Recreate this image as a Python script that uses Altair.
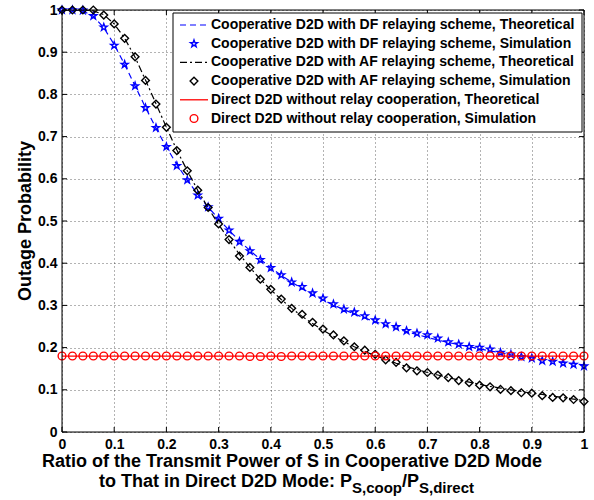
import math
import altair as alt
import pandas as pd

# ---------------- data ----------------
X = [0.00, 0.02, 0.04, 0.06, 0.08, 0.10, 0.12, 0.14, 0.16, 0.18,
     0.20, 0.22, 0.24, 0.26, 0.28, 0.30, 0.32, 0.34, 0.36, 0.38,
     0.40, 0.42, 0.44, 0.46, 0.48, 0.50, 0.52, 0.54, 0.56, 0.58,
     0.60, 0.62, 0.64, 0.66, 0.68, 0.70, 0.72, 0.74, 0.76, 0.78,
     0.80, 0.82, 0.84, 0.86, 0.88, 0.90, 0.92, 0.94, 0.96, 0.98,
     1.00]

DF_THEORY = [1.000, 1.000, 0.998, 0.985, 0.958, 0.918, 0.871, 0.820, 0.769, 0.720,
             0.675, 0.634, 0.597, 0.563, 0.533, 0.505, 0.478, 0.453, 0.430, 0.409,
             0.389, 0.371, 0.355, 0.340, 0.326, 0.313, 0.301, 0.290, 0.280, 0.270,
             0.261, 0.253, 0.245, 0.238, 0.231, 0.224, 0.218, 0.212, 0.207, 0.202,
             0.197, 0.192, 0.188, 0.183, 0.179, 0.176, 0.172, 0.168, 0.165, 0.162,
             0.159]
DF_SIM = [1.000, 1.000, 0.999, 0.986, 0.959, 0.916, 0.871, 0.820, 0.768, 0.721,
          0.676, 0.631, 0.597, 0.561, 0.533, 0.506, 0.478, 0.451, 0.429, 0.408,
          0.389, 0.372, 0.355, 0.344, 0.329, 0.317, 0.303, 0.291, 0.284, 0.275,
          0.265, 0.256, 0.249, 0.240, 0.234, 0.230, 0.222, 0.213, 0.208, 0.202,
          0.200, 0.196, 0.188, 0.184, 0.178, 0.175, 0.169, 0.167, 0.163, 0.160,
          0.156]
AF_THEORY = [1.000, 1.000, 1.000, 0.998, 0.989, 0.967, 0.933, 0.888, 0.834, 0.778,
             0.722, 0.668, 0.619, 0.573, 0.531, 0.492, 0.455, 0.421, 0.390, 0.362,
             0.337, 0.314, 0.293, 0.274, 0.257, 0.241, 0.227, 0.214, 0.202, 0.191,
             0.181, 0.172, 0.163, 0.155, 0.148, 0.141, 0.135, 0.129, 0.123, 0.118,
             0.113, 0.108, 0.104, 0.100, 0.096, 0.092, 0.089, 0.085, 0.082, 0.078,
             0.074]
AF_SIM = [1.000, 1.000, 1.000, 1.000, 0.988, 0.967, 0.933, 0.889, 0.833, 0.777,
          0.722, 0.667, 0.619, 0.573, 0.532, 0.493, 0.456, 0.417, 0.390, 0.362,
          0.338, 0.315, 0.293, 0.279, 0.260, 0.244, 0.230, 0.216, 0.202, 0.194,
          0.184, 0.171, 0.165, 0.152, 0.145, 0.141, 0.135, 0.129, 0.122, 0.117,
          0.111, 0.107, 0.101, 0.098, 0.093, 0.092, 0.086, 0.082, 0.081, 0.077,
          0.072]
DIRECT_THEORY = [0.180] * 51
DIRECT_SIM = [0.180, 0.180, 0.180, 0.180, 0.180, 0.180, 0.180, 0.180, 0.180, 0.180,
              0.180, 0.180, 0.180, 0.180, 0.180, 0.180, 0.180, 0.180, 0.179, 0.179,
              0.180, 0.179, 0.180, 0.180, 0.180, 0.180, 0.180, 0.180, 0.180, 0.180,
              0.180, 0.180, 0.180, 0.180, 0.180, 0.180, 0.180, 0.180, 0.180, 0.180,
              0.180, 0.180, 0.180, 0.180, 0.180, 0.180, 0.180, 0.180, 0.180, 0.180,
              0.180]

TICKS = [0, 0.1, 0.2, 0.3, 0.4, 0.5, 0.6, 0.7, 0.8, 0.9, 1.0]

LEGEND_LABELS = [
    "Cooperative D2D with DF relaying scheme, Theoretical",
    "Cooperative D2D with DF relaying scheme, Simulation",
    "Cooperative D2D with AF relaying scheme, Theoretical",
    "Cooperative D2D with AF relaying scheme, Simulation",
    "Direct D2D without relay cooperation, Theoretical",
    "Direct D2D without relay cooperation, Simulation",
]
X_TITLE_1 = "Ratio of the Transmit Power of S in Cooperative D2D Mode"
X_TITLE_2 = "to That in Direct D2D Mode: P"
SUB_1 = "S,coop"
MID = "/P"
SUB_2 = "S,direct"
Y_TITLE = "Outage Probability"

# ---------------- styling ----------------
FONT = "Liberation Sans"
BLUE, BLACK, RED = "#0000FF", "#000000", "#FF0000"
W, H = 522, 422

# pentagram path (unit radius)
pts = []
for k in range(10):
    ang = math.radians(-90 + 36 * k)
    r = 1.0 if k % 2 == 0 else 0.40
    pts.append(f"{r*math.cos(ang):.3f},{r*math.sin(ang):.3f}")
STAR = "M" + "L".join(pts) + "Z"

df = pd.DataFrame({
    "x": X, "df_th": DF_THEORY, "df_sim": DF_SIM, "af_th": AF_THEORY,
    "af_sim": AF_SIM, "d_th": DIRECT_THEORY, "d_sim": DIRECT_SIM,
})
one = pd.DataFrame({"a": [0]})

xs = alt.Scale(domain=[0, 1], nice=False, zero=False)
ys = alt.Scale(domain=[0, 1], nice=False, zero=False)

axis_common = dict(values=TICKS, format="~g", title=None, grid=True, tickSize=0,
                   domain=False, labelFont=FONT, labelFontSize=14, labelFontWeight="bold",
                   labelColor="black", labelFlush=False, labelOverlap=False, labelPadding=5,
                   gridColor="#000000", gridDash=[1, 3], gridOpacity=0.6, gridWidth=1)
XAXIS = alt.Axis(**axis_common)
YAXIS = alt.Axis(**axis_common)


def xy(field):
    return dict(x=alt.X("x:Q", scale=xs, axis=XAXIS),
                y=alt.Y(f"{field}:Q", scale=ys, axis=YAXIS))


base = alt.Chart(df)
layers = []
layers.append(base.mark_line(color=BLUE, strokeWidth=1.2, strokeDash=[6, 4], clip=True)
              .encode(**xy("df_th")))
layers.append(base.mark_point(shape=STAR, color=BLUE, size=55, strokeWidth=1.4, filled=False, opacity=1)
              .encode(**xy("df_sim")))
layers.append(base.mark_line(color=BLACK, strokeWidth=1.2, strokeDash=[7, 3, 2, 3], clip=True)
              .encode(**xy("af_th")))
layers.append(base.mark_point(shape="diamond", color=BLACK, size=60, strokeWidth=1.4, filled=False, opacity=1)
              .encode(**xy("af_sim")))
layers.append(base.mark_line(color=RED, strokeWidth=1.3, clip=True)
              .encode(**xy("d_th")))
layers.append(base.mark_point(shape="circle", color=RED, size=60, strokeWidth=1.4, filled=False, opacity=1)
              .encode(**xy("d_sim")))

# inward ticks on all four sides
tdf = pd.DataFrame({"t": TICKS})
tb = alt.Chart(tdf)
layers.append(tb.mark_rule(color="black").encode(
    x=alt.X("t:Q", scale=xs, axis=XAXIS), y=alt.value(H), y2=alt.value(H - 5)))
layers.append(tb.mark_rule(color="black").encode(
    x=alt.X("t:Q", scale=xs, axis=XAXIS), y=alt.value(0), y2=alt.value(5)))
layers.append(tb.mark_rule(color="black").encode(
    y=alt.Y("t:Q", scale=ys, axis=YAXIS), x=alt.value(0), x2=alt.value(5)))
layers.append(tb.mark_rule(color="black").encode(
    y=alt.Y("t:Q", scale=ys, axis=YAXIS), x=alt.value(W), x2=alt.value(W - 5)))

ob = alt.Chart(one)
# plot frame
layers.append(ob.mark_rect(fill=None, stroke="black", strokeWidth=1).encode(
    x=alt.value(0), x2=alt.value(W), y=alt.value(0), y2=alt.value(H)))

# legend
LX0, LX1, LY0, LY1 = 111, 520, 3, 122
layers.append(ob.mark_rect(fill="white", stroke="black", strokeWidth=1).encode(
    x=alt.value(LX0), x2=alt.value(LX1), y=alt.value(LY0), y2=alt.value(LY1)))
rows = [15.0, 33.7, 52.4, 71.1, 89.8, 108.5]
SX0, SX1, SXM, TX = 118, 146, 132, 149
layers.append(ob.mark_rule(color=BLUE, strokeWidth=1.2, strokeDash=[6, 4]).encode(
    x=alt.value(SX0), x2=alt.value(SX1), y=alt.value(rows[0])))
layers.append(ob.mark_point(shape=STAR, color=BLUE, size=55, strokeWidth=1.4, filled=False, opacity=1).encode(
    x=alt.value(SXM), y=alt.value(rows[1])))
layers.append(ob.mark_rule(color=BLACK, strokeWidth=1.2, strokeDash=[7, 3, 2, 3]).encode(
    x=alt.value(SX0), x2=alt.value(SX1), y=alt.value(rows[2])))
layers.append(ob.mark_point(shape="diamond", color=BLACK, size=60, strokeWidth=1.4, filled=False, opacity=1).encode(
    x=alt.value(SXM), y=alt.value(rows[3])))
layers.append(ob.mark_rule(color=RED, strokeWidth=1.3).encode(
    x=alt.value(SX0), x2=alt.value(SX1), y=alt.value(rows[4])))
layers.append(ob.mark_point(shape="circle", color=RED, size=60, strokeWidth=1.4, filled=False, opacity=1).encode(
    x=alt.value(SXM), y=alt.value(rows[5])))
for lbl, ry in zip(LEGEND_LABELS, rows):
    layers.append(ob.mark_text(text=lbl, align="left", baseline="middle", font=FONT,
                               fontSize=14, fontWeight="bold", color="black").encode(
        x=alt.value(TX), y=alt.value(ry)))

# axis titles
TFS, SFS = 18, 15
layers.append(ob.mark_text(text=X_TITLE_1, align="center", baseline="alphabetic", font=FONT,
                           fontSize=TFS, fontWeight="bold", color="black").encode(
    x=alt.value(230), y=alt.value(457)))
XA = 290
layers.append(ob.mark_text(text=X_TITLE_2, align="right", baseline="alphabetic", font=FONT,
                           fontSize=TFS, fontWeight="bold", color="black").encode(
    x=alt.value(XA), y=alt.value(477)))
layers.append(ob.mark_text(text=SUB_1, align="left", baseline="alphabetic", font=FONT,
                           fontSize=SFS, fontWeight="bold", color="black").encode(
    x=alt.value(XA), y=alt.value(483)))
layers.append(ob.mark_text(text=MID, align="left", baseline="alphabetic", font=FONT,
                           fontSize=TFS, fontWeight="bold", color="black").encode(
    x=alt.value(XA + 50), y=alt.value(477)))
layers.append(ob.mark_text(text=SUB_2, align="left", baseline="alphabetic", font=FONT,
                           fontSize=SFS, fontWeight="bold", color="black").encode(
    x=alt.value(XA + 67), y=alt.value(483)))
layers.append(ob.mark_text(text=Y_TITLE, align="center", baseline="middle", font=FONT,
                           fontSize=TFS, fontWeight="bold", color="black", angle=270).encode(
    x=alt.value(-36), y=alt.value(211)))

chart = alt.layer(*layers).properties(
    width=W, height=H,
    autosize=alt.AutoSizeParams(type="none"),
    padding={"left": 62, "top": 10, "right": 10, "bottom": 68},
).configure_view(stroke="black", strokeWidth=1).configure(background="white")

chart.save("out.html", embed_options={"renderer": "svg", "actions": False})
